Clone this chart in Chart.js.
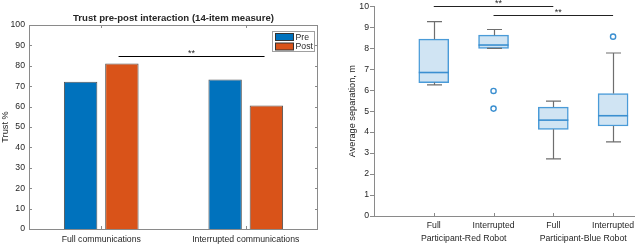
<!DOCTYPE html>
<html>
<head>
<meta charset="utf-8">
<script src="https://cdn.jsdelivr.net/npm/chart.js@4.4.1/dist/chart.umd.min.js"></script>
<style>
  body { margin: 0; background: #fff; width: 640px; height: 244px; overflow: hidden; }
  canvas { position: absolute; top: 0; }
  #trust { left: 0; }
  #sep { left: 320px; }
</style>
</head>
<body>
<canvas id="trust" width="320" height="244"></canvas>
<canvas id="sep" width="320" height="244"></canvas>
<script>
// ---- left panel: trust pre/post ----
const commLabels = ["Full communications", "Interrupted communications"];
const preVals = [72.2, 73.3];
const postVals = [81.1, 60.5];
const trustTicks = [0, 10, 20, 30, 40, 50, 60, 70, 80, 90, 100];
const trustSig = [0.12, 1.13, 85]; // from, to, level

// ---- right panel: separation box plots ----
const sepPos = [1, 2, 3, 4];
const sepLabels = ["Full", "Interrupted", "Full", "Interrupted"];
const sepGroups = ["Participant-Red Robot", "Participant-Blue Robot"];
const groupPos = [1.5, 3.5];
const whiskLo = [6.25, 7.99, 2.72, 3.53];
const q1 = [6.36, 7.99, 4.13, 4.29];
const med = [6.84, 8.15, 4.57, 4.78];
const q3 = [8.43, 8.62, 5.19, 5.84];
const whiskHi = [9.27, 8.89, 5.48, 7.77];
const outX = [2, 2, 4];
const outY = [5.96, 5.12, 8.55];
const sepSig = [[1, 3, 10.0], [2, 4, 9.6]];

const FONT = "'Liberation Sans', Arial, sans-serif";
const TXT = "#262626";
const AX = "#8a8a8a";
Chart.defaults.font.family = FONT;
Chart.defaults.font.size = 8.7;
Chart.defaults.color = TXT;

const trustDeco = {
  id: "trustDeco",
  afterDraw(chart) {
    const ctx = chart.ctx, a = chart.chartArea;
    const x = chart.scales.x, y = chart.scales.y;
    ctx.save();
    ctx.strokeStyle = AX;
    ctx.lineWidth = 1;
    ctx.strokeRect(a.left + 0.5, a.top + 0.5, a.right - a.left - 1, a.bottom - a.top);
    ctx.beginPath();
    trustTicks.forEach(v => {
      const py = Math.round(y.getPixelForValue(v)) + 0.5;
      ctx.moveTo(a.left, py); ctx.lineTo(a.left + 3, py);
      ctx.moveTo(a.right, py); ctx.lineTo(a.right - 3, py);
    });
    commLabels.forEach((l, i) => {
      const px = Math.round(x.getPixelForValue(i)) + 0.5;
      ctx.moveTo(px, a.bottom); ctx.lineTo(px, a.bottom - 3);
      ctx.moveTo(px, a.top); ctx.lineTo(px, a.top + 3);
    });
    ctx.stroke();

    // title
    ctx.fillStyle = TXT;
    ctx.font = "bold 9.6px " + FONT;
    ctx.textAlign = "center";
    ctx.textBaseline = "middle";
    ctx.fillText("Trust pre-post interaction (14-item measure)", (a.left + a.right) / 2, 18);

    // significance bar
    const sx1 = x.getPixelForValue(trustSig[0]), sx2 = x.getPixelForValue(trustSig[1]);
    const sy = Math.round(y.getPixelForValue(trustSig[2])) + 0.5;
    ctx.strokeStyle = "#000";
    ctx.beginPath(); ctx.moveTo(sx1, sy); ctx.lineTo(sx2, sy); ctx.stroke();
    ctx.font = "9px " + FONT;
    ctx.textBaseline = "alphabetic";
    ctx.fillText("**", (sx1 + sx2) / 2, sy - 1);

    // legend
    ctx.fillStyle = "#fff";
    ctx.fillRect(272.5, 31.5, 42, 20);
    ctx.strokeStyle = "#a0a0a0";
    ctx.strokeRect(272.5, 31.5, 42, 20);
    const sw = [["Pre", "#0072BD"], ["Post", "#D95319"]];
    sw.forEach((s, i) => {
      const ty = 33.5 + i * 9.5;
      ctx.fillStyle = s[1];
      ctx.fillRect(275.5, ty, 18, 7);
      ctx.strokeStyle = "#333";
      ctx.strokeRect(275.5, ty, 18, 7);
      ctx.fillStyle = TXT;
      ctx.font = "8.7px " + FONT;
      ctx.textAlign = "left";
      ctx.textBaseline = "middle";
      ctx.fillText(s[0], 295.5, ty + 4);
    });
    ctx.restore();
  }
};

new Chart("trust", {
  type: "bar",
  data: {
    labels: commLabels,
    datasets: [
      { label: "Pre", data: preVals, backgroundColor: "#0072BD", borderColor: "rgba(40,40,40,0.8)", borderWidth: 1 },
      { label: "Post", data: postVals, backgroundColor: "#D95319", borderColor: "rgba(40,40,40,0.8)", borderWidth: 1 }
    ]
  },
  options: {
    responsive: false,
    animation: false,
    devicePixelRatio: 1,
    categoryPercentage: 0.571,
    barPercentage: 0.81,
    layout: { padding: { top: 25, right: 2, left: 0, bottom: 0 } },
    plugins: { legend: { display: false }, tooltip: { enabled: false } },
    scales: {
      x: {
        grid: { display: false, drawTicks: false },
        border: { display: false },
        ticks: { padding: 5, color: TXT, maxRotation: 0 },
        afterFit(s) { s.height = 15; }
      },
      y: {
        min: 0, max: 100,
        grid: { display: false, drawTicks: false },
        border: { display: false },
        ticks: { stepSize: 10, padding: 4, color: TXT },
        title: { display: true, text: "Trust %", padding: 0, color: TXT, font: { size: 9.2 } },
        afterFit(s) { s.width = 29; }
      }
    }
  },
  plugins: [trustDeco]
});

const boxDeco = {
  id: "boxDeco",
  afterDatasetsDraw(chart) {
    const ctx = chart.ctx, a = chart.chartArea;
    const x = chart.scales.x, y = chart.scales.y;
    ctx.save();
    // whiskers
    ctx.strokeStyle = "#6e6e6e";
    ctx.lineWidth = 1.2;
    sepPos.forEach((p, i) => {
      const px = Math.round(x.getPixelForValue(p)) + 0.5;
      const yHi = y.getPixelForValue(whiskHi[i]), yQ3 = y.getPixelForValue(q3[i]);
      const yLo = y.getPixelForValue(whiskLo[i]), yQ1 = y.getPixelForValue(q1[i]);
      ctx.beginPath();
      ctx.moveTo(px, yQ3); ctx.lineTo(px, yHi);
      ctx.moveTo(px - 7.5, yHi); ctx.lineTo(px + 7.5, yHi);
      ctx.moveTo(px, yQ1); ctx.lineTo(px, yLo);
      ctx.moveTo(px - 7.5, yLo); ctx.lineTo(px + 7.5, yLo);
      ctx.stroke();
    });
    // medians
    ctx.strokeStyle = "#3b8fd0";
    ctx.lineWidth = 1.6;
    sepPos.forEach((p, i) => {
      const px = x.getPixelForValue(p);
      const py = y.getPixelForValue(med[i]);
      ctx.beginPath(); ctx.moveTo(px - 15, py); ctx.lineTo(px + 15, py); ctx.stroke();
    });
    // inward x ticks
    ctx.strokeStyle = AX;
    ctx.lineWidth = 1;
    ctx.beginPath();
    sepPos.forEach(p => {
      const px = Math.round(x.getPixelForValue(p)) + 0.5;
      ctx.moveTo(px, a.bottom); ctx.lineTo(px, a.bottom - 3);
    });
    ctx.stroke();
    // significance bars
    ctx.strokeStyle = "#222";
    ctx.fillStyle = TXT;
    ctx.font = "9px " + FONT;
    ctx.textAlign = "center";
    ctx.textBaseline = "alphabetic";
    sepSig.forEach(s => {
      const x1 = x.getPixelForValue(s[0]), x2 = x.getPixelForValue(s[1]);
      const sy = Math.round(y.getPixelForValue(s[2])) + 0.5;
      ctx.beginPath(); ctx.moveTo(x1, sy); ctx.lineTo(x2, sy); ctx.stroke();
      ctx.fillText("**", (x1 + x2) / 2 + 5, sy - 1);
    });
    // group labels
    ctx.font = "8.7px " + FONT;
    ctx.textBaseline = "middle";
    sepGroups.forEach((g, i) => {
      ctx.fillText(g, x.getPixelForValue(groupPos[i]), 238.5);
    });
    ctx.restore();
  }
};

new Chart("sep", {
  type: "bar",
  data: {
    datasets: [
      {
        type: "bar",
        data: sepPos.map((p, i) => ({ x: p, y: [q1[i], q3[i]] })),
        backgroundColor: "#d0e4f3",
        borderColor: "#4a9bd8",
        borderWidth: 1.5,
        borderSkipped: false,
        barThickness: 30
      },
      {
        type: "scatter",
        data: outX.map((v, i) => ({ x: v, y: outY[i] })),
        pointRadius: 2.6,
        pointBorderWidth: 1.4,
        pointBorderColor: "#3b8fd0",
        pointBackgroundColor: "#fff"
      }
    ]
  },
  options: {
    responsive: false,
    animation: false,
    devicePixelRatio: 1,
    layout: { padding: { top: 5, right: 3, left: 0, bottom: 0 } },
    plugins: { legend: { display: false }, tooltip: { enabled: false } },
    scales: {
      x: {
        type: "linear",
        min: 0, max: 4.36,
        offset: false,
        grid: { display: false, drawTicks: false },
        border: { display: true, color: AX },
        ticks: { padding: 4, color: TXT, autoSkip: false, maxRotation: 0,
          callback: v => sepLabels[v - 1] || "" },
        afterBuildTicks(s) { s.ticks = sepPos.map(v => ({ value: v })); },
        afterFit(s) { s.height = 28; }
      },
      y: {
        min: 0, max: 10,
        grid: { drawOnChartArea: false, color: AX, tickLength: 4 },
        border: { display: true, color: AX },
        ticks: { stepSize: 1, padding: 1, color: TXT },
        title: { display: true, text: "Average separation, m", padding: { top: 27, bottom: 0 }, color: TXT, font: { size: 9.2 } },
        afterFit(s) { s.width = 54; }
      }
    }
  },
  plugins: [boxDeco]
});
</script>
</body>
</html>
